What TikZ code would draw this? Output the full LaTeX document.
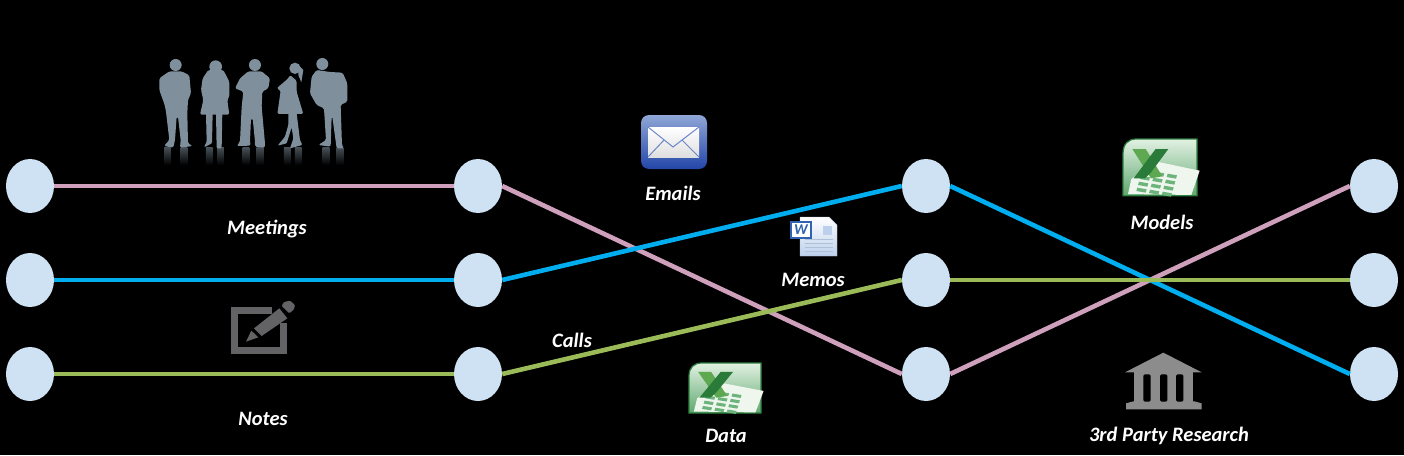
\documentclass[tikz,border=0pt]{standalone}
\usepackage{fontspec}
\setmainfont{Carlito}
\definecolor{nodefill}{HTML}{CFE2F3}
\definecolor{pinkline}{HTML}{CFA0BC}
\definecolor{blueline}{HTML}{00AEEF}
\definecolor{greenline}{HTML}{9BBB59}
\definecolor{peoplegray}{HTML}{7F909C}
\definecolor{padgray}{HTML}{636366}
\definecolor{bankgray}{HTML}{8C8C8C}
\definecolor{excelhi}{HTML}{E2F1E2}
\definecolor{excello}{HTML}{5FA870}
\definecolor{excelline}{HTML}{2F7F40}
\definecolor{excelx}{HTML}{5DA850}
\definecolor{exceldark}{HTML}{2A7A3A}
\definecolor{excelcell}{HTML}{6DB47C}
\definecolor{excelsheet}{HTML}{EEF6EE}
\definecolor{mailtop}{HTML}{8FA6D6}
\definecolor{mailmid}{HTML}{2C50B4}
\definecolor{mailbot}{HTML}{2346A8}
\definecolor{wordblue}{HTML}{2F62B0}
\definecolor{wordpale}{HTML}{BCD0EC}
\tikzset{
	stop/.style={ellipse,fill=nodefill,minimum width=48pt,minimum height=54pt,inner sep=0pt},
	link/.style={line width=4.6pt},
	caption/.style={text=white,font=\fontsize{20.5}{22}\selectfont\bfseries\itshape,inner sep=0pt},
}
\usetikzlibrary{shapes.geometric}
% excel icon: left, top, xscale, yscale
\newcommand{\excelicon}[4]{
	\begin{scope}[shift={(#1,#2)},xscale=#3,yscale=#4]
		\shade[top color=excelhi,bottom color=excello,draw=excelline,line width=1.2pt] (0,170)--(0,45) .. controls (0,15) and (15,0) .. (40,0)--(222,0)--(222,170)--cycle;
		\fill[excelsheet] (15,165)--(25,120)--(102,68)--(230,95)--(205,168)--cycle;
		\foreach \r in {0,1,2,3}{
			\foreach \c in {0,1,2}{
				\fill[excelcell] ({58+\c*38-\r*5},{92+\r*18+\c*6})--++(28,5)--++(-3,10)--++(-28,-5)--cycle;
			}
		}
		\fill[excelx] (28,30)--(68,30)--(118,112)--(84,118)--cycle;
		\fill[exceldark] (98,30)--(136,30)--(84,100)--(66,118)--(32,118)--cycle;
	\end{scope}
}
\begin{document}
\begin{tikzpicture}[x=1pt,y=-1pt]
	\fill[black] (0,0) rectangle (1404,455);
	\useasboundingbox (0,0) rectangle (1404,455);
	% stops
	\foreach \n/\px in {a/30,b/478,c/926,d/1374}{
		\foreach \r/\py in {1/186,2/280,3/374}{
			\node[stop] (\n\r) at (\px,\py) {};
		}
	}
	% connectors
	\draw[link,pinkline] (a1)--(b1);
	\draw[link,pinkline] (b1.east)--(c3.west);
	\draw[link,pinkline] (c3.east)--(d1.west);
	\draw[link,blueline] (a2)--(b2);
	\draw[link,blueline] (b2.east)--(c1.west);
	\draw[link,blueline] (c1.east)--(d3.west);
	\draw[link,greenline] (a3)--(b3);
	\draw[link,greenline] (b3.east)--(c2.west);
	\draw[link,greenline] (c2)--(d2);
	% labels
	\node[caption] (meetings) at (267,229) {Meetings};
	\node[caption] (notes) at (263,419) {Notes};
	\node[caption] (emails) at (673,193) {Emails};
	\node[caption] (memos) at (813,280) {Memos};
	\node[caption] (calls) at (572,340) {Calls};
	\node[caption] (data) at (726,436) {Data};
	\node[caption] (models) at (1162,222) {Models};
	\node[caption] (research) at (1169,436) {3rd Party Research};
	% people
	\begin{scope}[shift={(140,50)},x=0.3333pt,y=-0.3333pt]
		\foreach \fx in {72,122,198,232,308,350,432,465,548,590}{
			\shade[top color=peoplegray!55!black,bottom color=black] (\fx,293) rectangle ++(20,52);
		}
		\fill[peoplegray] (107,45) circle (18);
		\fill[peoplegray,rounded corners=1.5pt] (88,64)--(125,64)--(148,76)--(153,130)--(144,150)--(142,190)--(144,280)--(158,288)--(120,293)--(122,270)--(114,200)--(110,200)--(105,270)--(100,293)--(72,288)--(88,270)--(78,185)--(74,165)--(58,120)--(58,85)--cycle;
		\fill[peoplegray] (227,50) circle (19);
		\fill[peoplegray,rounded corners=1.5pt] (205,60)--(250,60)--(268,95)--(268,140)--(262,150)--(268,194)--(180,194)--(190,150)--(183,120)--(188,85)--cycle;
		\fill[peoplegray,rounded corners=1pt] (198,190)--(218,190)--(216,280)--(192,292)--(200,275)--cycle;
		\fill[peoplegray,rounded corners=1pt] (228,190)--(247,190)--(245,295)--(230,295)--cycle;
		\fill[peoplegray] (345,45) circle (18);
		\fill[peoplegray,rounded corners=1.5pt] (325,64)--(365,64)--(390,85)--(385,115)--(367,125)--(365,170)--(375,280)--(375,293)--(345,290)--(345,275)--(338,205)--(333,205)--(330,275)--(332,287)--(290,288)--(300,275)--(305,170)--(310,125)--(285,115)--(300,85)--cycle;
		\fill[peoplegray] (465,55) circle (17);
		\fill[peoplegray] (475,45)--(490,60)--(484,97)--(475,75)--cycle;
		\fill[peoplegray,rounded corners=1.5pt] (450,75)--(470,92)--(470,125)--(490,192)--(412,192)--(422,122)--(410,115)--(445,85)--cycle;
		\fill[peoplegray,rounded corners=1pt] (445,190)--(470,190)--(480,270)--(487,285)--(450,295)--(460,265)--(455,232)--(440,280)--(413,287)--(435,260)--(445,225)--cycle;
		\fill[peoplegray] (547,42) circle (18);
		\fill[peoplegray,rounded corners=1.5pt] (530,60)--(570,66)--(608,68)--(622,100)--(622,155)--(602,165)--(606,285)--(612,295)--(590,295)--(577,200)--(575,200)--(572,290)--(535,285)--(558,270)--(552,175)--(530,165)--(510,130)--(515,80)--cycle;
	\end{scope}
	% pad and pencil
	\begin{scope}[shift={(210,290)},x=0.3333pt,y=-0.3333pt]
		\draw[padgray,line width=7.3pt] (185,61)--(74,61)--(74,181)--(221,181)--(221,100);
		\fill[padgray] (108,155)--(124,122)--(145,142)--cycle;
		\fill[padgray] (132,115)--(208,55)--(232,85)--(155,138)--cycle;
		\fill[padgray,rounded corners=1pt] (215,48)--(222,36)--(240,32)--(255,45)--(252,58)--(238,70)--cycle;
	\end{scope}
	% mail
	\shade[rounded corners=8pt,top color=mailtop,middle color=mailmid,bottom color=mailbot] (641,115) rectangle (707,169);
	\shade[top color=white,bottom color=gray!25] (648,127) rectangle (699,157);
	\draw[mailmid!70,line width=1pt] (648,127)--(673,147)--(699,127);
	\draw[mailmid!70,line width=1pt] (648,157)--(664,140) (699,157)--(682,140);
	% memo
	\shade[top color=white,bottom color=wordpale,draw=wordpale!80!gray] (800,217)--(829,217)--(837,225)--(837,256)--(800,256)--cycle;
	\fill[wordpale] (823,226) rectangle (832,235);
	\foreach \ly in {239,243,247,251}{
		\draw[wordpale!80!gray,line width=0.5pt] (805,\ly)--(833,\ly);
	}
	\fill[white,draw=wordblue,line width=2pt] (791,222) rectangle (811,238);
	\node[text=wordblue,font=\fontsize{15}{15}\selectfont\bfseries\itshape,inner sep=0pt] (wordmark) at (801,230) {W};
	% excel
	\excelicon{1123}{139}{0.3333}{0.3333}
	\excelicon{689}{363}{0.3243}{0.2941}
	% bank
	\begin{scope}[shift={(1100,340)},x=0.3333pt,y=-0.3333pt]
		\fill[bankgray] (190,38)--(305,97)--(75,97)--cycle;
		\fill[bankgray] (103,97) rectangle (280,190);
		\fill[bankgray] (78,208)--(78,190)--(100,184)--(283,184)--(305,190)--(305,208)--cycle;
		\foreach \gx in {130,180,228}{
			\fill[black,rounded corners=1.5pt] (\gx,103) rectangle ++(22,82);
		}
	\end{scope}
\end{tikzpicture}
\end{document}
